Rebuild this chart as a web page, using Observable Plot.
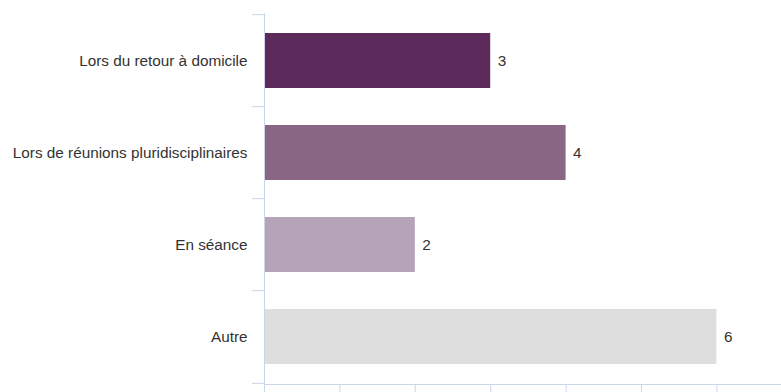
<!DOCTYPE html>
<html>
<head>
<meta charset="utf-8">
<script src="https://cdn.jsdelivr.net/npm/d3@7"></script>
<script src="https://cdn.jsdelivr.net/npm/@observablehq/plot@0.6"></script>
<style>
  html, body { margin: 0; padding: 0; background: #fff; }
  #chart svg { display: block; }
</style>
</head>
<body>
<div id="chart"></div>
<script>
// Situations in which the topic was raised
const categories = [
  "Lors du retour à domicile",
  "Lors de réunions pluridisciplinaires",
  "En séance",
  "Autre"
];
const values = [3, 4, 2, 6];
const barColors = ["#5c2a5b", "#8a6685", "#b5a3b7", "#dedede"];
const xTicks = [0, 1, 2, 3, 4, 5, 6, 7];

const data = categories.map((c, i) => ({category: c, value: values[i]}));

// layout
const W = 781, H = 392;
const mTop = 13, mBottom = 8, mLeft = 264;
const axisColor = "#ccd6eb";
const fontSize = 15.3;
const step = (H - mTop - mBottom) / categories.length;

const chart = Plot.plot({
  width: W,
  height: H,
  marginTop: mTop,
  marginBottom: mBottom,
  marginLeft: mLeft,
  marginRight: 0,
  style: {fontFamily: "'Liberation Sans', Arial, Helvetica, sans-serif", fontSize: fontSize + "px", color: "#333", background: "#fff"},
  x: {domain: [0, 7], range: [mLeft, mLeft + 7 * 75.4], axis: null},
  y: {domain: categories, paddingInner: 0.4, paddingOuter: 0.2, axis: null},
  color: {domain: categories, range: barColors},
  marks: [
    Plot.barX(data, {x: "value", y: "category", fill: "category"}),
    Plot.text(data, {x: "value", y: "category", text: d => String(d.value), textAnchor: "start", dx: 7, fill: "#333", fontSize}),
    // category labels
    Plot.axisY({tickSize: 0, tickPadding: 17, fontSize, fill: "#333", label: null}),
    // category boundary ticks (no text)
    Plot.axisY({tickSize: 12, fill: "none", dy: -step / 2, stroke: axisColor, label: null}),
    Plot.axisY([categories[categories.length - 1]], {tickSize: 12, fill: "none", dy: step / 2, stroke: axisColor, label: null}),
    // value axis ticks without labels
    Plot.axisX({ticks: xTicks, tickSize: 8, fill: "none", stroke: axisColor, label: null}),
    Plot.frame({anchor: "left", stroke: axisColor}),
    Plot.frame({anchor: "bottom", stroke: axisColor})
  ]
});

document.getElementById("chart").appendChild(chart);
</script>
</body>
</html>
